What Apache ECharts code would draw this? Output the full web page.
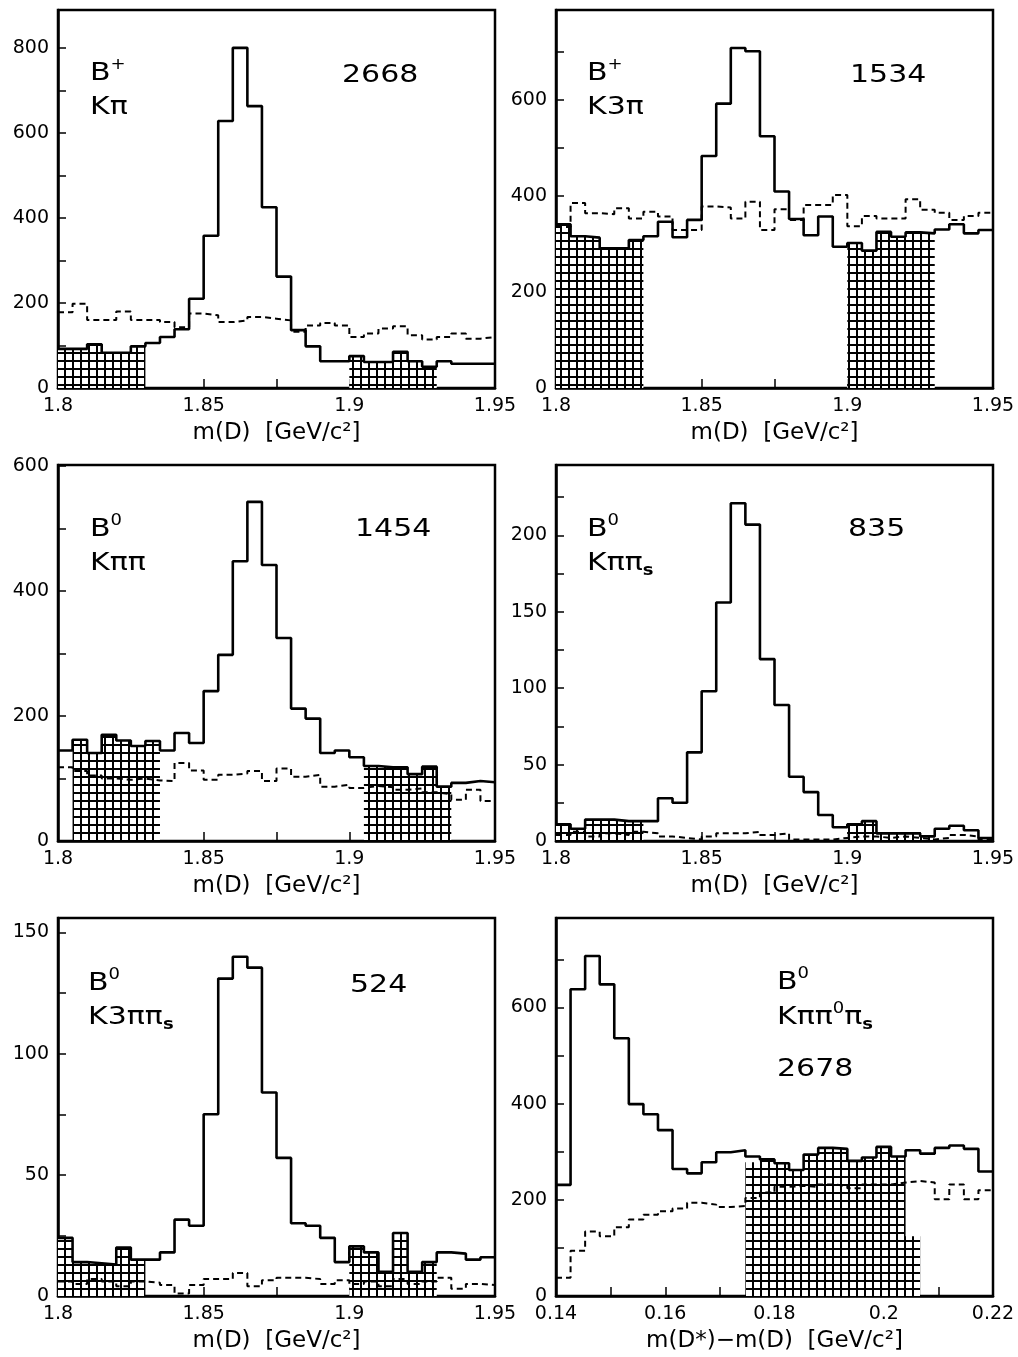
<!DOCTYPE html>
<html><head><meta charset="utf-8">
<script src="https://cdn.jsdelivr.net/npm/echarts@6/dist/echarts.min.js"></script>
<style>html,body{margin:0;padding:0;background:#fff}#c{width:1018px;height:1357px}</style>
</head><body><div id="c"></div>
<script>
const FONT = 'DejaVu Sans';

// ---- binning (30 bins per panel) ----
const mdRange = [1.80, 1.95];
const dmRange = [0.14, 0.22];
const nBins = 30;

// ---- tick / label values ----
const mdLabels = [1.8, 1.85, 1.9, 1.95];
const mdTicks = [1.825, 1.85, 1.875, 1.9, 1.925];
const dmLabels = [0.14, 0.16, 0.18, 0.2, 0.22];
const dmTicks = [0.15, 0.16, 0.17, 0.18, 0.19, 0.2, 0.21];
const yLab800 = [0, 200, 400, 600, 800];
const yTick800 = [0, 100, 200, 300, 400, 500, 600, 700, 800];
const yLab600 = [0, 200, 400, 600];
const yTick700 = [0, 100, 200, 300, 400, 500, 600, 700];
const yTick600 = [0, 100, 200, 300, 400, 500, 600];
const yLab200 = [0, 50, 100, 150, 200];
const yTick225 = [0, 25, 50, 75, 100, 125, 150, 175, 200, 225];
const yLab150 = [0, 50, 100, 150];
const yTick150 = [0, 25, 50, 75, 100, 125, 150];

// ---- B+ -> K pi ----
const kpiSolid  = [92, 92, 103, 83, 83, 98, 106, 120, 138, 210, 358, 628, 800, 663, 425, 262, 136, 98, 63, 63, 75, 61, 61, 85, 63, 50, 63, 57, 57, 57];
const kpiDashed = [178, 198, 160, 160, 180, 160, 160, 155, 143, 175, 171, 155, 159, 167, 163, 159, 132, 147, 153, 147, 120, 128, 140, 145, 124, 114, 120, 128, 116, 120];
// ---- B+ -> K 3pi ----
const k3piSolid  = [341, 316, 313, 291, 291, 308, 316, 346, 314, 350, 483, 592, 708, 701, 524, 409, 352, 318, 357, 294, 302, 286, 325, 315, 324, 322, 330, 341, 322, 329];
const k3piDashed = [335, 385, 364, 362, 374, 353, 367, 357, 329, 329, 378, 376, 353, 388, 329, 372, 350, 381, 381, 402, 337, 358, 353, 353, 393, 371, 365, 350, 358, 365];
// ---- B0 -> K pi pi ----
const kpipiSolid  = [145, 162, 141, 170, 161, 152, 160, 145, 173, 157, 240, 298, 448, 543, 442, 325, 212, 196, 141, 145, 134, 120, 118, 118, 107, 119, 87, 93, 96, 94];
const kpipiDashed = [118, 112, 105, 100, 98, 100, 97, 96, 125, 113, 98, 106, 108, 112, 96, 116, 103, 106, 87, 90, 85, 88, 86, 82, 84, 78, 75, 66, 82, 64];
// ---- B0 -> K pi pi_s ----
const kpipisSolid  = [11, 8, 14, 14, 13, 13, 13, 28, 25, 58, 98, 156, 221, 207, 119, 89, 42, 32, 17, 9, 11, 13, 5, 5, 5, 3, 8, 10, 7, 2];
const kpipisDashed = [4, 6, 3, 5, 4, 6, 5, 3, 2, 1, 3, 5, 5, 6, 4, 5, 1, 1, 1, 2, 3, 3, 2, 3, 2, 1, 2, 4, 3, 1];
// ---- B0 -> K 3pi pi_s ----
const k3pipisSolid  = [24, 14, 13.5, 13, 20, 15, 15, 18, 31.5, 29, 75, 131, 140, 135.5, 84, 57, 30, 29, 24, 14, 20.5, 18, 10, 26, 10, 14, 18, 17.5, 15, 16];
const k3pipisDashed = [6, 5, 7, 6, 4, 6, 5.5, 4.5, 1, 4.5, 7, 7, 9.5, 4, 6.5, 7.5, 7.5, 7, 5, 6.5, 5, 6, 4, 7, 5, 6, 7.5, 3, 5, 4.5];
// ---- B0 -> K pi pi0 pi_s  (m(D*)-m(D)) ----
const kpipi0pisSolid  = [231, 638, 707, 648, 536, 399, 378, 345, 264, 255, 278, 299, 303, 290, 284, 276, 262, 294, 308, 306, 281, 288, 310, 290, 303, 296, 308, 313, 306, 259];
const kpipi0pisDashed = [38, 94, 134, 124, 143, 159, 169, 176, 182, 194, 190, 185, 187, 204, 215, 227, 229, 227, 232, 229, 224, 232, 232, 236, 239, 236, 201, 232, 201, 220];
const kpipi0pisHatchStart = 13;
const kpipi0pisHatch = [278, 284, 276, 262, 294, 308, 306, 281, 288, 310, 290, 124];

// sideband (hatched) bin ranges [first, last+1)
const sbStd = [[0, 6], [20, 26]];
const sbKpipi = [[1, 7], [21, 27]];

// ---- annotation texts ----
const txtBplus = '{m|B}{sup|+}';
const txtB0 = '{m|B}{sup|0}';
const modeTexts = ['{m|Kπ}', '{m|K3π}', '{m|Kππ}', '{m|Kππ}{sub|s}', '{m|K3ππ}{sub|s}', '{m|Kππ}{sup|0}{m|π}{sub|s}'];
const countTexts = ['2668', '1534', '1454', '835', '524', '2678'];
const mdName = 'm(D)  [GeV/c²]';
const dmName = 'm(D*)−m(D)  [GeV/c²]';

// ---- layout ----
const colLeft = [58, 556];
const colW = 437;
const rowTop = [10, 465, 918];
const rowH = [378, 376, 378];

const panels = [
  {col:0,row:0, range:mdRange, solid:kpiSolid, dashed:kpiDashed, sb:sbStd, ymax:889, yl:yLab800, yt:yTick800, xl:mdLabels, xt:mdTicks, name:mdName,
   tB:[90,73], tM:[90,107], tC:[342,75], bt:txtBplus},
  {col:1,row:0, range:mdRange, solid:k3piSolid, dashed:k3piDashed, sb:sbStd, ymax:787, yl:yLab600, yt:yTick700, xl:mdLabels, xt:mdTicks, name:mdName,
   tB:[587,73], tM:[587,107], tC:[850,75], bt:txtBplus},
  {col:0,row:1, range:mdRange, solid:kpipiSolid, dashed:kpipiDashed, sb:sbKpipi, ymax:602, yl:yLab600, yt:yTick600, xl:mdLabels, xt:mdTicks, name:mdName,
   tB:[90,529], tM:[90,563], tC:[355,529], bt:txtB0},
  {col:1,row:1, range:mdRange, solid:kpipisSolid, dashed:kpipisDashed, sb:sbStd, ymax:246, yl:yLab200, yt:yTick225, xl:mdLabels, xt:mdTicks, name:mdName,
   tB:[587,529], tM:[587,563], tC:[848,529], bt:txtB0},
  {col:0,row:2, range:mdRange, solid:k3pipisSolid, dashed:k3pipisDashed, sb:sbStd, ymax:156, yl:yLab150, yt:yTick150, xl:mdLabels, xt:mdTicks, name:mdName,
   tB:[88,983], tM:[88,1017], tC:[350,985], bt:txtB0},
  {col:1,row:2, range:dmRange, solid:kpipi0pisSolid, dashed:kpipi0pisDashed, hatchStart:kpipi0pisHatchStart, hatch:kpipi0pisHatch, ymax:786, yl:yLab600, yt:yTick700, xl:dmLabels, xt:dmTicks, name:dmName,
   tB:[777,982], tM:[777,1017], tC:[777,1069], bt:txtB0}
];

function hatchCanvas(){
  const c = document.createElement('canvas');
  c.width = 8; c.height = 8;
  const g = c.getContext('2d');
  g.fillStyle = '#fff'; g.fillRect(0,0,8,8);
  g.fillStyle = '#000'; g.fillRect(0,0,8,2); g.fillRect(0,0,2,8);
  return c;
}
const hatchImg = hatchCanvas();

function stepPts(range, vals, i0){
  const w = (range[1]-range[0]) / nBins;
  const pts = vals.map((v,k) => [range[0] + (i0+k)*w, v]);
  pts.push([range[0] + (i0+vals.length)*w, vals[vals.length-1]]);
  return pts;
}

const grids = [], xAxes = [], yAxes = [], series = [], graphics = [];
const axisCol = '#000';
panels.forEach((p, i) => {
  grids.push({left: colLeft[p.col], top: rowTop[p.row], width: colW, height: rowH[p.row],
    show: true, borderColor: '#000', borderWidth: 2.5, backgroundColor: 'transparent',
    containLabel: false, outerBoundsMode: 'none'});
  xAxes.push({type:'value', gridIndex:i, min:p.range[0], max:p.range[1],
    name: p.name, nameLocation:'middle', nameGap: 34,
    nameTextStyle:{fontSize:23, fontFamily:FONT, color:'#000'},
    axisLine:{show:true, onZero:false, lineStyle:{color:axisCol, width:2.5}},
    axisTick:{show:true, inside:true, length:9, customValues:p.xt, lineStyle:{color:axisCol, width:1.5}},
    axisLabel:{customValues:p.xl, margin:9, color:'#000', fontSize:19, fontFamily:FONT, formatter: v => String(v)},
    splitLine:{show:false}});
  yAxes.push({type:'value', gridIndex:i, min:0, max:p.ymax,
    axisLine:{show:true, lineStyle:{color:axisCol, width:2.5}},
    axisTick:{show:true, inside:true, length:8, customValues:p.yt, lineStyle:{color:axisCol, width:1.5}},
    axisLabel:{customValues:p.yl, margin:9, color:'#000', fontSize:19, fontFamily:FONT},
    splitLine:{show:false}});
  const common = {type:'line', xAxisIndex:i, yAxisIndex:i, step:'end', symbol:'none', showSymbol:false, silent:true, animation:false};
  const hatchSets = [];
  if (p.sb) p.sb.forEach(r => hatchSets.push(stepPts(p.range, p.solid.slice(r[0], r[1]), r[0])));
  if (p.hatch) hatchSets.push(stepPts(p.range, p.hatch, p.hatchStart));
  hatchSets.forEach(pts => series.push(Object.assign({}, common, {
    data: pts, lineStyle:{width:0, opacity:0},
    areaStyle:{color:{image:hatchImg, repeat:'repeat'}, opacity:1}, z:1})));
  series.push(Object.assign({}, common, {data: stepPts(p.range, p.dashed, 0),
    lineStyle:{color:'#000', width:2, type:[6,4]}, z:2}));
  series.push(Object.assign({}, common, {data: stepPts(p.range, p.solid, 0),
    lineStyle:{color:'#000', width:2.6}, z:3}));

  const rich = {
    m:{fontSize:25, fontFamily:FONT, fill:'#000', verticalAlign:'middle', lineHeight:31},
    sup:{fontSize:15, fontFamily:FONT, fill:'#000', verticalAlign:'top', lineHeight:15},
    sub:{fontSize:15, fontFamily:FONT, fill:'#000', fontWeight:'bold', verticalAlign:'bottom', lineHeight:15}
  };
  const mk = (pos, text) => ({type:'text', x:pos[0], y:pos[1], scaleX:1.2, silent:true,
    style:{text:text, rich:rich, fill:'#000', fontSize:25, fontFamily:FONT, align:'left', verticalAlign:'middle'}});
  graphics.push(mk(p.tB, p.bt));
  graphics.push(mk(p.tM, modeTexts[i]));
  graphics.push(mk(p.tC, '{m|' + countTexts[i] + '}'));
});

const chart = echarts.init(document.getElementById('c'), null, {renderer:'canvas'});
chart.setOption({
  animation:false,
  backgroundColor:'#fff',
  grid: grids, xAxis: xAxes, yAxis: yAxes, series: series,
  graphic: graphics
});
</script></body></html>
